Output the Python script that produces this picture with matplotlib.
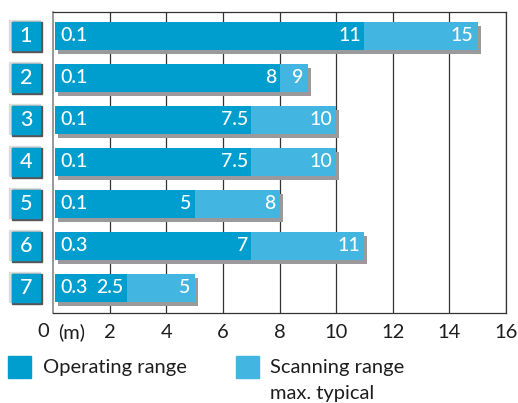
import matplotlib.pyplot as plt
from matplotlib.patches import Rectangle

plt.rcParams['font.family'] = ['Lato', 'DejaVu Sans']

rows = ["1", "2", "3", "4", "5", "6", "7"]
start_labels = ["0.1", "0.1", "0.1", "0.1", "0.1", "0.3", "0.3"]
# bar lengths as drawn in the picture, labels as printed on them
operating = [11, 8, 7, 7, 5, 7, 2.6]
operating_labels = ["11", "8", "7.5", "7.5", "5", "7", "2.5"]
scanning = [15, 9, 10, 10, 8, 11, 5]
scanning_labels = ["15", "9", "10", "10", "8", "11", "5"]
ticks = [2, 4, 6, 8, 10, 12, 14, 16]

dark = "#009ecf"
light = "#42b6e0"
shadow = "#9a9a9c"
txt = "#1e1e1e"

W, H = 518, 403
fig = plt.figure(figsize=(W / 100, H / 100), dpi=100)
ax = fig.add_axes([53 / W, 1 - 313 / H, 453 / W, 300.7 / H])

px_x = 16 / 453.0   # data units per pixel
px_y = 1 / 42.0
h = 0.655
x0 = 0.07

for i in range(len(rows)):
    # shadow
    ax.barh(i + 4 * px_y, scanning[i] - x0, left=x0 + 3 * px_x, height=h,
            color=shadow, zorder=2)
    ax.barh(i, scanning[i] - x0, left=x0, height=h, color=light, zorder=3)
    ax.barh(i, operating[i] - x0, left=x0, height=h, color=dark, zorder=4)
    ax.text(x0 + 5 * px_x, i, start_labels[i], color="white", fontsize=14,
            va="center", ha="left", zorder=5, fontweight="medium")
    ax.text(operating[i] - 3 * px_x, i, operating_labels[i], color="white",
            fontsize=14, va="center", ha="right", zorder=5, fontweight="medium")
    ax.text(scanning[i] - 4 * px_x, i, scanning_labels[i], color="white",
            fontsize=14, va="center", ha="right", zorder=5, fontweight="medium")

    # numbered box on the left
    bx0, bx1 = -41 * px_x, -13 * px_x
    bh = 28 * px_y
    ax.add_patch(Rectangle((bx0 - 2.7 * px_x, i - bh / 2 - 1.7 * px_y),
                           bx1 - bx0 + 2.7 * px_x, bh + 1.7 * px_y,
                           color="#dcdcdc", clip_on=False, zorder=2))
    ax.add_patch(Rectangle((bx0, i - bh / 2), bx1 - bx0 + 1.5 * px_x,
                           bh + 2 * px_y, color="#555555", clip_on=False, zorder=3))
    ax.add_patch(Rectangle((bx0, i - bh / 2), bx1 - bx0, bh,
                           color=dark, clip_on=False, zorder=4))
    ax.text((bx0 + bx1) / 2, i, rows[i], color="white", fontsize=15.5,
            ha="center", va="center", zorder=5, fontweight="medium")

ax.set_xlim(0, 16)
ax.set_ylim(6.6, -0.56)
ax.set_yticks([])
ax.set_xticks(ticks)
ax.set_xticklabels([str(t) for t in ticks], fontsize=14.5, color=txt)
ax.tick_params(axis="x", length=0, pad=8)
ax.grid(axis="x", color="#333333", linewidth=0.9, zorder=1)
ax.set_axisbelow(True)
for s in ["top", "right", "bottom"]:
    ax.spines[s].set_color("#333333")
    ax.spines[s].set_linewidth(0.9)
ax.spines["left"].set_color("#888888")
ax.spines["left"].set_linewidth(1.2)

ax.text(-10 * px_x, 6.6 + 19 * px_y, "0", fontsize=14.5, color=txt,
        ha="center", va="center", clip_on=False)
ax.text(5 * px_x, 6.6 + 19 * px_y, "(m)", fontsize=14.5, color=txt,
        ha="left", va="center", clip_on=False)

# legend
fig.patches.append(Rectangle((8 / W, 1 - 378 / H), 23 / W, 22 / H,
                             color=dark, transform=fig.transFigure))
fig.text(43 / W, 1 - 367 / H, "Operating range", fontsize=14.5,
         color=txt, va="center", ha="left")
fig.patches.append(Rectangle((236 / W, 1 - 378 / H), 23 / W, 22 / H,
                             color=light, transform=fig.transFigure))
fig.text(270 / W, 1 - 367 / H, "Scanning range", fontsize=14.5,
         color=txt, va="center", ha="left")
fig.text(270 / W, 1 - 393 / H, "max. typical", fontsize=14.5,
         color=txt, va="center", ha="left")

fig.savefig("out.png", dpi=100)
